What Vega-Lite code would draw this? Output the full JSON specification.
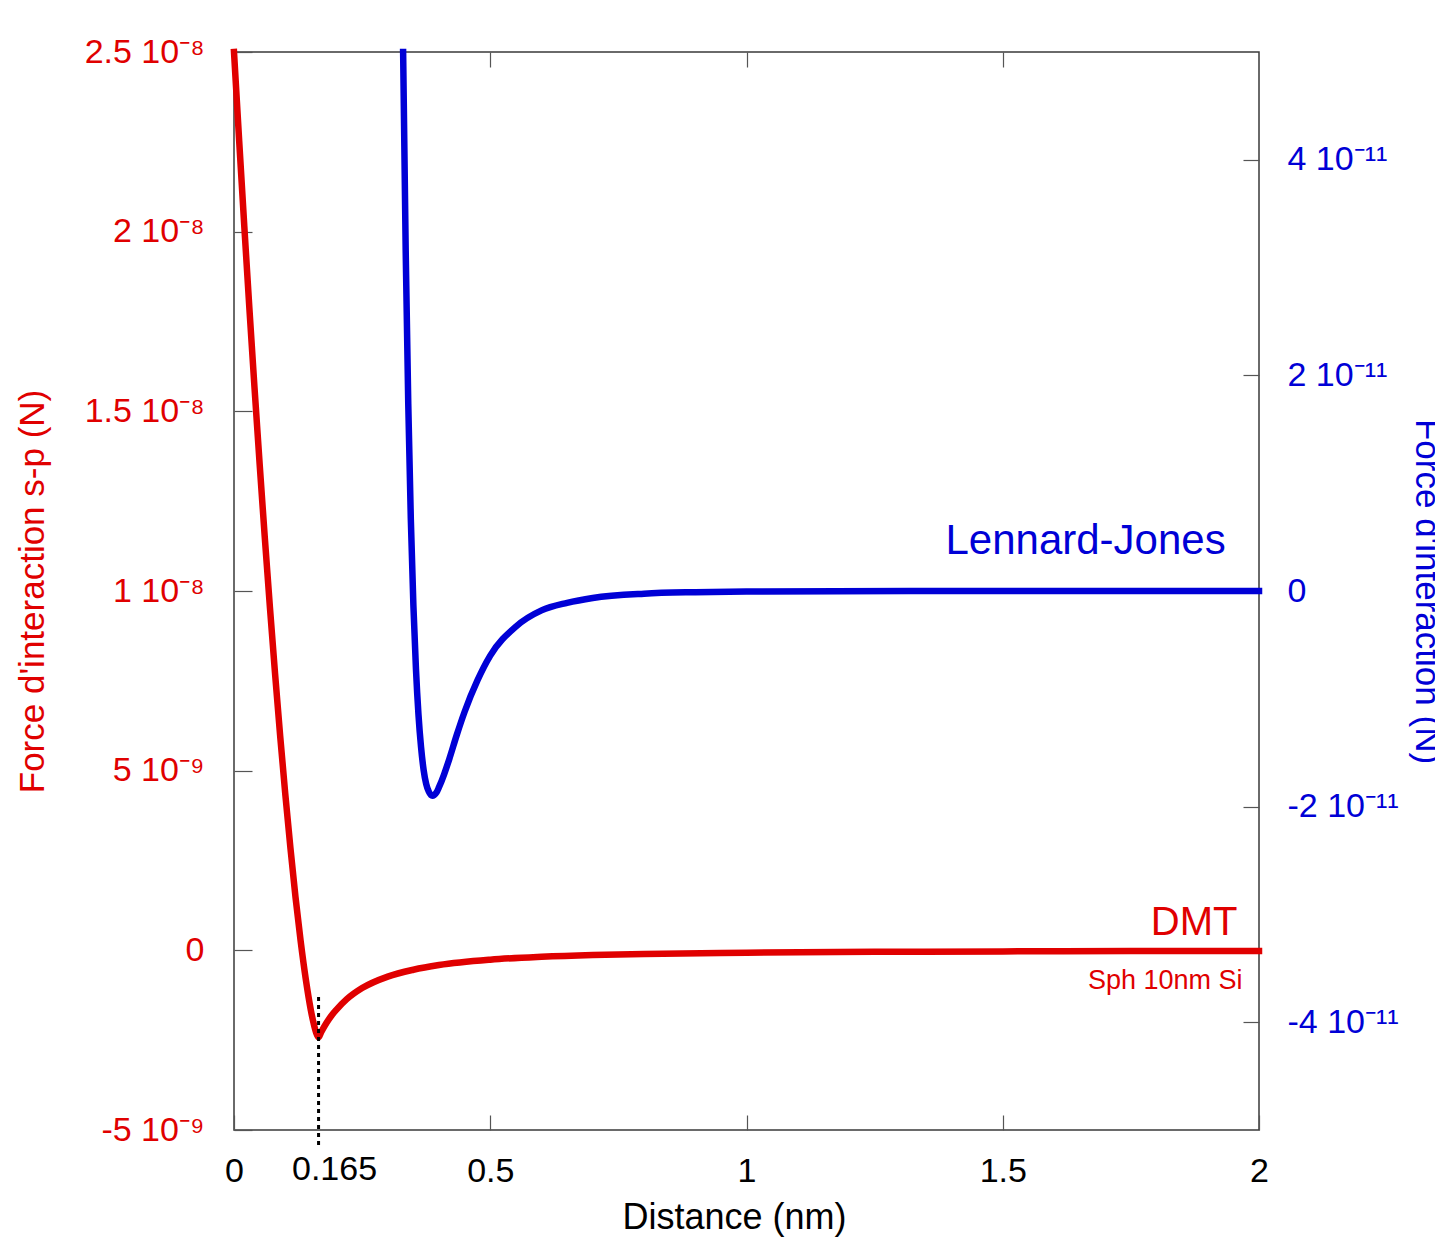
{
  "$schema": "https://vega.github.io/schema/vega-lite/v6.json",
  "autosize": {"type": "none"},
  "padding": {"left": 234, "top": 52, "right": 176, "bottom": 120},
  "width": 1025,
  "height": 1078,
  "background": "white",
  "config": {
    "font": "Liberation Sans",
    "view": {"stroke": "#3a3a3a", "strokeWidth": 1.5},
    "axis": {"domain": false, "grid": false, "tickColor": "#555555", "tickWidth": 1.2, "labelFont": "Liberation Sans", "titleFont": "Liberation Sans", "titleFontWeight": "normal"}
  },
  "datasets": {
    "dmt": [
      {"d": 0, "F": 2.5e-8}, {"d": 0.01, "F": 2.255e-8}, {"d": 0.02, "F": 2.017e-8}, {"d": 0.03, "F": 1.787e-8},
      {"d": 0.04, "F": 1.566e-8}, {"d": 0.05, "F": 1.354e-8}, {"d": 0.06, "F": 1.15e-8}, {"d": 0.07, "F": 9.56e-9},
      {"d": 0.08, "F": 7.72e-9}, {"d": 0.09, "F": 5.98e-9}, {"d": 0.1, "F": 4.36e-9}, {"d": 0.11, "F": 2.86e-9},
      {"d": 0.12, "F": 1.48e-9}, {"d": 0.13, "F": 2.6e-10}, {"d": 0.14, "F": -8.0e-10}, {"d": 0.15, "F": -1.67e-9},
      {"d": 0.155, "F": -2.01e-9}, {"d": 0.16, "F": -2.28e-9}, {"d": 0.165, "F": -2.42e-9}, {"d": 0.17, "F": -2.28e-9},
      {"d": 0.18, "F": -2.03e-9}, {"d": 0.19, "F": -1.82e-9}, {"d": 0.2, "F": -1.65e-9}, {"d": 0.22, "F": -1.36e-9},
      {"d": 0.25, "F": -1.05e-9}, {"d": 0.3, "F": -7.3e-10}, {"d": 0.35, "F": -5.4e-10}, {"d": 0.4, "F": -4.1e-10},
      {"d": 0.5, "F": -2.6e-10}, {"d": 0.6, "F": -1.8e-10}, {"d": 0.7, "F": -1.3e-10}, {"d": 0.8, "F": -1.0e-10},
      {"d": 1.0, "F": -6.6e-11}, {"d": 1.25, "F": -4.2e-11}, {"d": 1.5, "F": -2.9e-11}, {"d": 1.75, "F": -2.1e-11},
      {"d": 2.0, "F": -1.6e-11}
    ],
    "lj": [
      {"d": 0.33, "F": 5.0e-11}, {"d": 0.335, "F": 3.16e-11}, {"d": 0.34, "F": 1.74e-11}, {"d": 0.345, "F": 0.67e-11},
      {"d": 0.35, "F": -0.13e-11}, {"d": 0.355, "F": -0.72e-11}, {"d": 0.36, "F": -1.15e-11}, {"d": 0.365, "F": -1.45e-11},
      {"d": 0.37, "F": -1.66e-11}, {"d": 0.375, "F": -1.79e-11}, {"d": 0.38, "F": -1.86e-11}, {"d": 0.387, "F": -1.9e-11},
      {"d": 0.395, "F": -1.87e-11}, {"d": 0.4, "F": -1.82e-11}, {"d": 0.41, "F": -1.7e-11}, {"d": 0.42, "F": -1.56e-11},
      {"d": 0.435, "F": -1.33e-11}, {"d": 0.45, "F": -1.12e-11}, {"d": 0.475, "F": -0.83e-11}, {"d": 0.5, "F": -0.6e-11},
      {"d": 0.55, "F": -0.33e-11}, {"d": 0.6, "F": -0.18e-11}, {"d": 0.65, "F": -0.11e-11}, {"d": 0.7, "F": -0.065e-11},
      {"d": 0.8, "F": -0.025e-11}, {"d": 0.9, "F": -0.011e-11}, {"d": 1.0, "F": -0.005e-11}, {"d": 1.5, "F": 0},
      {"d": 2.0, "F": 0}
    ]
  },
  "layer": [
    {
      "data": {"name": "dmt"},
      "mark": {"type": "line", "color": "#e00000", "strokeWidth": 6.5, "strokeCap": "square", "interpolate": "monotone"},
      "encoding": {
        "x": {"field": "d", "type": "quantitative", "scale": {"domain": [0, 2], "nice": false},
          "axis": {"orient": "bottom", "values": [0, 0.5, 1, 1.5, 2], "format": "~g", "tickSize": -15, "labelPadding": 39,
            "labelFontSize": 34, "labelColor": "black", "labelFlush": false, "title": "Distance (nm)",
            "titleFontSize": 36, "titleColor": "black", "titlePadding": 12, "titleX": 500}},
        "y": {"field": "F", "type": "quantitative", "scale": {"domain": [-5e-9, 2.5e-8], "nice": false, "zero": false},
          "axis": {"orient": "left", "values": [-5e-9, 0, 5e-9, 1e-8, 1.5e-8, 2e-8, 2.5e-8], "tickSize": -18,
            "labelPadding": 48, "labelFontSize": 34, "labelColor": "#e00000", "labelFlush": false,
            "labelExpr": "round(datum.value*1e10) == -50 ? '-5 10⁻⁹' : round(datum.value*1e10) == 0 ? '0' : round(datum.value*1e10) == 50 ? '5 10⁻⁹' : round(datum.value*1e10) == 100 ? '1 10⁻⁸' : round(datum.value*1e10) == 150 ? '1.5 10⁻⁸' : round(datum.value*1e10) == 200 ? '2 10⁻⁸' : '2.5 10⁻⁸'",
            "title": "Force d'interaction s-p (N)", "titleFontSize": 35, "titleColor": "#e00000", "titlePadding": 34}}
      }
    },
    {
      "data": {"name": "lj"},
      "mark": {"type": "line", "color": "#0000d6", "strokeWidth": 6.5, "strokeCap": "square", "interpolate": "monotone"},
      "encoding": {
        "x": {"field": "d", "type": "quantitative", "scale": {"domain": [0, 2], "nice": false},
          "axis": {"orient": "top", "values": [0.5, 1, 1.5], "tickSize": -15, "labels": false, "title": null}},
        "y": {"field": "F", "type": "quantitative", "scale": {"domain": [-5e-11, 5e-11], "nice": false, "zero": false},
          "axis": {"orient": "right", "values": [-4e-11, -2e-11, 0, 2e-11, 4e-11], "tickSize": -16,
            "labelPadding": 44, "labelFontSize": 34, "labelColor": "#0000d6", "labelFlush": false,
            "labelExpr": "round(datum.value*1e11) == -4 ? '-4 10⁻¹¹' : round(datum.value*1e11) == -2 ? '-2 10⁻¹¹' : round(datum.value*1e11) == 0 ? '0' : round(datum.value*1e11) == 2 ? '2 10⁻¹¹' : '4 10⁻¹¹'",
            "title": "Force d'interaction (N)", "titleFontSize": 35, "titleColor": "#0000d6", "titlePadding": 10}}
      }
    },
    {
      "data": {"values": [{"d": 0.165, "F": -1.3e-9}]},
      "mark": {"type": "rule", "color": "black", "strokeWidth": 3, "strokeDash": [4, 4], "clip": false},
      "encoding": {
        "x": {"field": "d", "type": "quantitative", "scale": {"domain": [0, 2], "nice": false}, "axis": null},
        "y": {"field": "F", "type": "quantitative", "scale": {"domain": [-5e-9, 2.5e-8], "nice": false, "zero": false}, "axis": null},
        "y2": {"datum": -5.42e-9}
      }
    },
    {
      "data": {"values": [{"d": 1.958, "F": 4.3e-10, "label": "DMT"}]},
      "mark": {"type": "text", "color": "#e00000", "fontSize": 40, "align": "right", "baseline": "alphabetic"},
      "encoding": {
        "x": {"field": "d", "type": "quantitative", "scale": {"domain": [0, 2], "nice": false}, "axis": null},
        "y": {"field": "F", "type": "quantitative", "scale": {"domain": [-5e-9, 2.5e-8], "nice": false, "zero": false}, "axis": null},
        "text": {"field": "label"}
      }
    },
    {
      "data": {"values": [{"d": 1.968, "F": -1.08e-9, "label": "Sph 10nm Si"}]},
      "mark": {"type": "text", "color": "#e00000", "fontSize": 27, "align": "right", "baseline": "alphabetic"},
      "encoding": {
        "x": {"field": "d", "type": "quantitative", "scale": {"domain": [0, 2], "nice": false}, "axis": null},
        "y": {"field": "F", "type": "quantitative", "scale": {"domain": [-5e-9, 2.5e-8], "nice": false, "zero": false}, "axis": null},
        "text": {"field": "label"}
      }
    },
    {
      "data": {"values": [{"d": 0.165, "F": -5e-9, "label": "0.165"}]},
      "mark": {"type": "text", "color": "black", "fontSize": 34, "align": "center", "baseline": "middle", "dx": 16, "dy": 40, "clip": false},
      "encoding": {
        "x": {"field": "d", "type": "quantitative", "scale": {"domain": [0, 2], "nice": false}, "axis": null},
        "y": {"field": "F", "type": "quantitative", "scale": {"domain": [-5e-9, 2.5e-8], "nice": false, "zero": false}, "axis": null},
        "text": {"field": "label"}
      }
    },
    {
      "data": {"values": [{"d": 1.935, "F": 3.4e-12, "label": "Lennard-Jones"}]},
      "mark": {"type": "text", "color": "#0000d6", "fontSize": 42, "align": "right", "baseline": "alphabetic"},
      "encoding": {
        "x": {"field": "d", "type": "quantitative", "scale": {"domain": [0, 2], "nice": false}, "axis": null},
        "y": {"field": "F", "type": "quantitative", "scale": {"domain": [-5e-11, 5e-11], "nice": false, "zero": false}, "axis": null},
        "text": {"field": "label"}
      }
    }
  ],
  "resolve": {"scale": {"x": "independent", "y": "independent"}}
}
